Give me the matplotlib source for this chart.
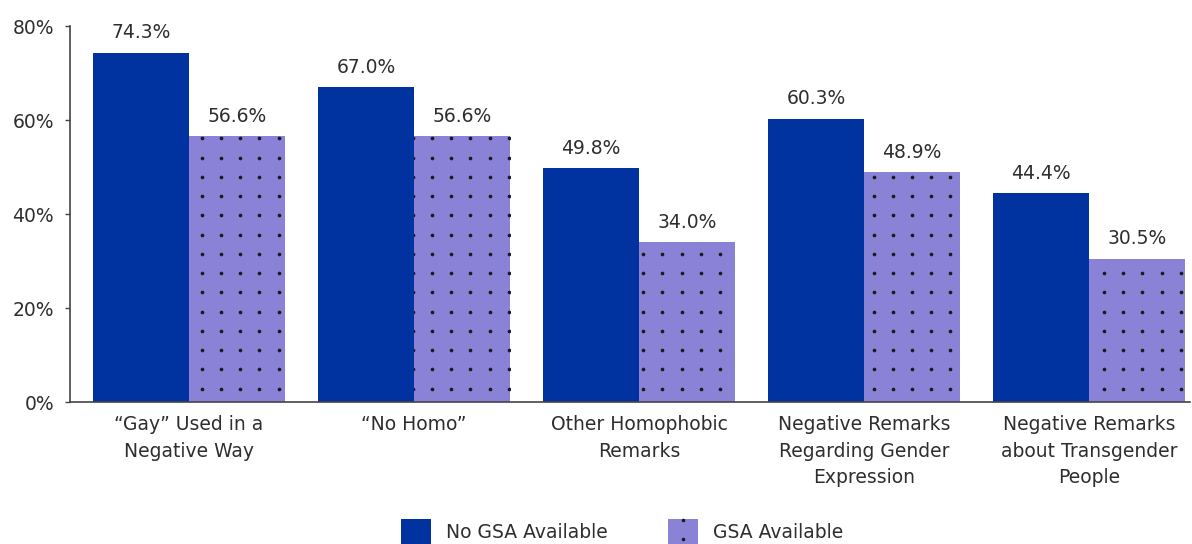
import numpy as np
import matplotlib
matplotlib.use('Agg')
from matplotlib import pyplot as plt
from matplotlib.patches import Rectangle
from matplotlib.legend_handler import HandlerBase

# %%
categories = ['\u201cGay\u201d Used in a\nNegative Way', '\u201cNo Homo\u201d',
              'Other Homophobic\nRemarks', 'Negative Remarks\nRegarding Gender\nExpression',
              'Negative Remarks\nabout Transgender\nPeople']
no_gsa = [74.3, 67.0, 49.8, 60.3, 44.4]
gsa = [56.6, 56.6, 34.0, 48.9, 30.5]
series_names = ['No GSA Available', 'GSA Available']
yticks = [0, 20, 40, 60, 80]

BLUE = '#0033a0'
PURPLE = '#8a82d6'
DOT = '#1a1a1a'
TXT = '#2e2e2e'
FS = 13.5

plt.rcParams['font.family'] = ['DejaVu Sans']

# %%
fig = plt.figure(figsize=(11.92, 5.44), dpi=100)
ax = fig.add_axes([70/1192, 1 - 402/544, 1120/1192, 376/544])

x = np.arange(len(categories))
w = 96/225
b1 = ax.bar(x - w/2, no_gsa, w, color=BLUE, linewidth=0)
b2 = ax.bar(x + w/2, gsa, w, color=PURPLE, linewidth=0)

# dotted fill on the GSA bars (pattern anchored to the whole plot, clipped per bar)
dx, dy = 19.2/225, 19.2/4.6875
px = np.arange(0.0564 - 2*dx, len(categories), dx)
py = np.arange(2.86, 80, dy)
gx, gy = np.meshgrid(px, py)
for r in b2:
    sc = ax.scatter(gx.ravel(), gy.ravel(), s=7, color=DOT, linewidths=0, zorder=3)
    sc.set_clip_path(r)

for bars, vals in [(b1, no_gsa), (b2, gsa)]:
    for r, v in zip(bars, vals):
        ax.annotate(f'{v:.1f}%', (r.get_x() + r.get_width()/2, v), xytext=(0, 7.5),
                    textcoords='offset points', ha='center', va='bottom',
                    fontsize=FS, color=TXT)

ax.set_xlim(-0.529, 4.449)
ax.set_ylim(0, 80)
ax.set_yticks(yticks)
ax.set_yticklabels([f'{t}%' for t in yticks])
ax.set_xticks(x)
ax.set_xticklabels(categories, linespacing=1.5)
ax.tick_params(axis='y', length=3.5, width=1, pad=8, colors='#444444', labelcolor=TXT, labelsize=FS)
ax.tick_params(axis='x', length=0, pad=9.5, labelcolor=TXT, labelsize=FS)
for s in ['top', 'right']:
    ax.spines[s].set_visible(False)
for s in ['left', 'bottom']:
    ax.spines[s].set_color('#444444')
    ax.spines[s].set_linewidth(1.2)


class DottedHandler(HandlerBase):
    def create_artists(self, legend, orig, xd, yd, width, height, fontsize, trans):
        rect = Rectangle((-xd, -yd), width, height, facecolor=PURPLE, linewidth=0, transform=trans)
        cx = -xd + width/2
        dots = plt.Line2D([cx, cx], [-yd + height*0.96, -yd + height*0.22],
                          ls='none', marker='o', ms=2.6, color=DOT, mew=0, transform=trans)
        return [rect, dots]


h1 = Rectangle((0, 0), 1, 1, facecolor=BLUE, linewidth=0)
h2 = Rectangle((0, 0), 1, 1, facecolor=PURPLE, linewidth=0)
fig.legend([h1, h2], series_names, loc='center', bbox_to_anchor=(0.522, 1 - 532/544),
           ncol=2, frameon=False, fontsize=FS, labelcolor=TXT,
           handlelength=1.6, handleheight=1.76, handletextpad=0.8, columnspacing=3.2,
           handler_map={h2: DottedHandler()})

fig.savefig('out.png', dpi=100)
